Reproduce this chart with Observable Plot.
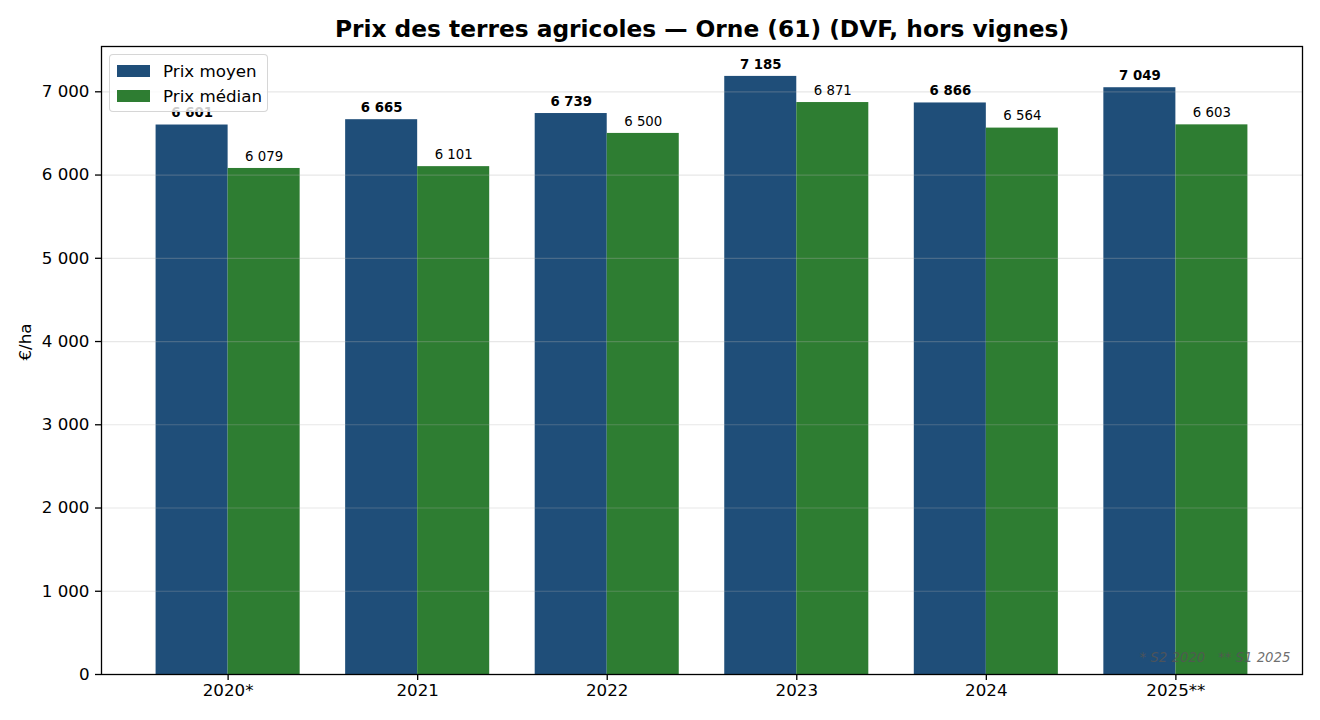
<!DOCTYPE html>
<html><head><meta charset="utf-8">
<script src="https://cdn.jsdelivr.net/npm/d3@7"></script>
<script src="https://cdn.jsdelivr.net/npm/@observablehq/plot@0.6"></script>
<style>
body{margin:0;background:#fff;font-family:"DejaVu Sans",sans-serif;}
#wrap{position:relative;width:1320px;height:720px;}
#legend{position:absolute;left:109px;top:54px;width:159px;height:58px;box-sizing:border-box;border:1px solid rgba(204,204,204,0.8);border-radius:4px;background:rgba(255,255,255,0.8);font-size:16.7px;color:#000;}
.item{position:absolute;left:7px;display:flex;align-items:center;height:20px;}
.sw{width:33px;height:12px;margin-right:13px;}
</style></head><body>
<div id="wrap"><div id="chart"></div><div id="legend"></div></div>
<script>
const years = ["2020*", "2021", "2022", "2023", "2024", "2025**"];
const prixMoyen = [6601, 6665, 6739, 7185, 6866, 7049];
const prixMedian = [6079, 6101, 6500, 6871, 6564, 6603];
const seriesNames = ["Prix moyen", "Prix médian"];
const seriesColors = ["#1f4e79", "#2e7d32"];
const yTicks = [0, 1000, 2000, 3000, 4000, 5000, 6000, 7000];
const title = "Prix des terres agricoles — Orne (61) (DVF, hors vignes)";
const yLabel = "€/ha";
const footnote = "* S2 2020   ** S1 2025";

const fmt = d => d3.format(",")(d).replace(/,/g, "\u00a0");
const W = 0.38;
const idx = years.map((_, i) => i);

const chart = Plot.plot({
  width: 1320,
  height: 720,
  marginTop: 46,
  marginBottom: 46,
  marginLeft: 101,
  marginRight: 18,
  style: {fontFamily: "DejaVu Sans", fontSize: "16.7px", background: "#fff"},
  x: {type: "linear", domain: [-0.668, years.length - 1 + 0.668]},
  y: {domain: [0, Math.max(...prixMoyen) * 1.05]},
  marks: [
    Plot.rectY(prixMoyen, {x1: (d, i) => i - W, x2: (d, i) => i, y1: 0, y2: d => d, fill: seriesColors[0]}),
    Plot.rectY(prixMedian, {x1: (d, i) => i, x2: (d, i) => i + W, y1: 0, y2: d => d, fill: seriesColors[1]}),
    Plot.ruleY(yTicks, {stroke: "#b0b0b0", strokeOpacity: 0.3, strokeWidth: 1.2}),
    Plot.text(prixMoyen, {x: (d, i) => i - W / 2, y: d => d, text: fmt, dy: -12, lineAnchor: "middle", fontWeight: "bold", fontSize: 13.3, fill: "#000"}),
    Plot.text(prixMedian, {x: (d, i) => i + W / 2, y: d => d, text: fmt, dy: -12, lineAnchor: "middle", fontSize: 13.3, fill: "#000"}),
    Plot.axisY({ticks: yTicks, tickFormat: fmt, tickSize: 6, tickPadding: 6, label: null, strokeWidth: 1.3}),
    Plot.axisX({ticks: idx, tickFormat: i => years[i], tickSize: 6, tickPadding: 4, label: null, strokeWidth: 1.3}),
    Plot.frame({stroke: "#000", strokeWidth: 1.3}),
    Plot.text([title], {frameAnchor: "top", dy: -17, lineAnchor: "middle", fontSize: 23.3, fontWeight: "bold", fill: "#000"}),
    Plot.text([yLabel], {frameAnchor: "left", dx: -76, rotate: -90, lineAnchor: "middle", fontSize: 16.7, fill: "#000"}),
    Plot.text([footnote], {frameAnchor: "bottom-right", dx: -12, dy: -17, textAnchor: "end", lineAnchor: "middle", fontSize: 13.3, fontStyle: "italic", fill: "#555", fillOpacity: 0.85})
  ]
});
document.getElementById("chart").appendChild(chart);

const legend = document.getElementById("legend");
seriesNames.forEach((name, k) => {
  const item = document.createElement("div");
  item.className = "item";
  item.style.top = (6 + k * 25) + "px";
  const sw = document.createElement("span");
  sw.className = "sw";
  sw.style.background = seriesColors[k];
  const lab = document.createElement("span");
  lab.textContent = name;
  item.appendChild(sw);
  item.appendChild(lab);
  legend.appendChild(item);
});
</script>
</body></html>
